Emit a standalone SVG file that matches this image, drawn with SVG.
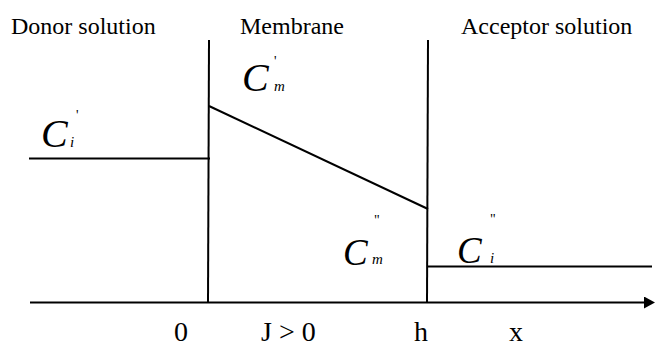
<svg xmlns="http://www.w3.org/2000/svg" width="655" height="347" viewBox="0 0 655 347">
<style>
.ln{stroke:#000;stroke-width:2;fill:none}
text{fill:#000}
</style>
<defs>
<marker id="arr" markerWidth="11" markerHeight="12" refX="0" refY="6" orient="auto" markerUnits="userSpaceOnUse">
<path d="M0,0 L11,6 L0,12 Z" fill="#000"/>
</marker>
</defs>
<g id="connectors">
<line class="ln" x1="30" y1="302.5" x2="644" y2="302.5" marker-end="url(#arr)"/>
<line class="ln" x1="209" y1="40" x2="208" y2="303"/>
<line class="ln" x1="428" y1="40" x2="427" y2="303"/>
<line class="ln" x1="29" y1="158.5" x2="210" y2="158.5"/>
<line class="ln" x1="209" y1="106" x2="428" y2="209"/>
<line class="ln" x1="428" y1="266.5" x2="652" y2="266.5"/>
</g>
<g font-family="'Liberation Serif','Times New Roman',Tinos,'DejaVu Serif',serif">
<g id="headers" font-size="24">
<text x="11" y="34">Donor solution</text>
<text x="240" y="34">Membrane</text>
<text x="461" y="34">Acceptor solution</text>
</g>
<g id="axis-labels" font-size="28">
<text x="174" y="341">0</text>
<text x="261" y="341">J &gt; 0</text>
<text x="414" y="341">h</text>
<text x="509" y="341">x</text>
</g>
<g id="Cm1" font-style="italic">
<text x="242" y="91" font-size="40">C</text>
<text x="274" y="66" font-size="14" font-style="normal">'</text>
<text x="274" y="91" font-size="15">m</text>
</g>
<g id="Ci1" font-style="italic">
<text x="41" y="147" font-size="40">C</text>
<text x="76" y="120" font-size="14" font-style="normal">'</text>
<text x="70" y="147" font-size="15">i</text>
</g>
<g id="Cm2" font-style="italic">
<text x="343" y="265" font-size="37">C</text>
<text x="374" y="225" font-size="14" font-style="normal">"</text>
<text x="372" y="264" font-size="15">m</text>
</g>
<g id="Ci2" font-style="italic">
<text x="457" y="263" font-size="37">C</text>
<text x="490" y="224" font-size="14" font-style="normal">"</text>
<text x="490" y="263" font-size="15">i</text>
</g>
</g>
</svg>
